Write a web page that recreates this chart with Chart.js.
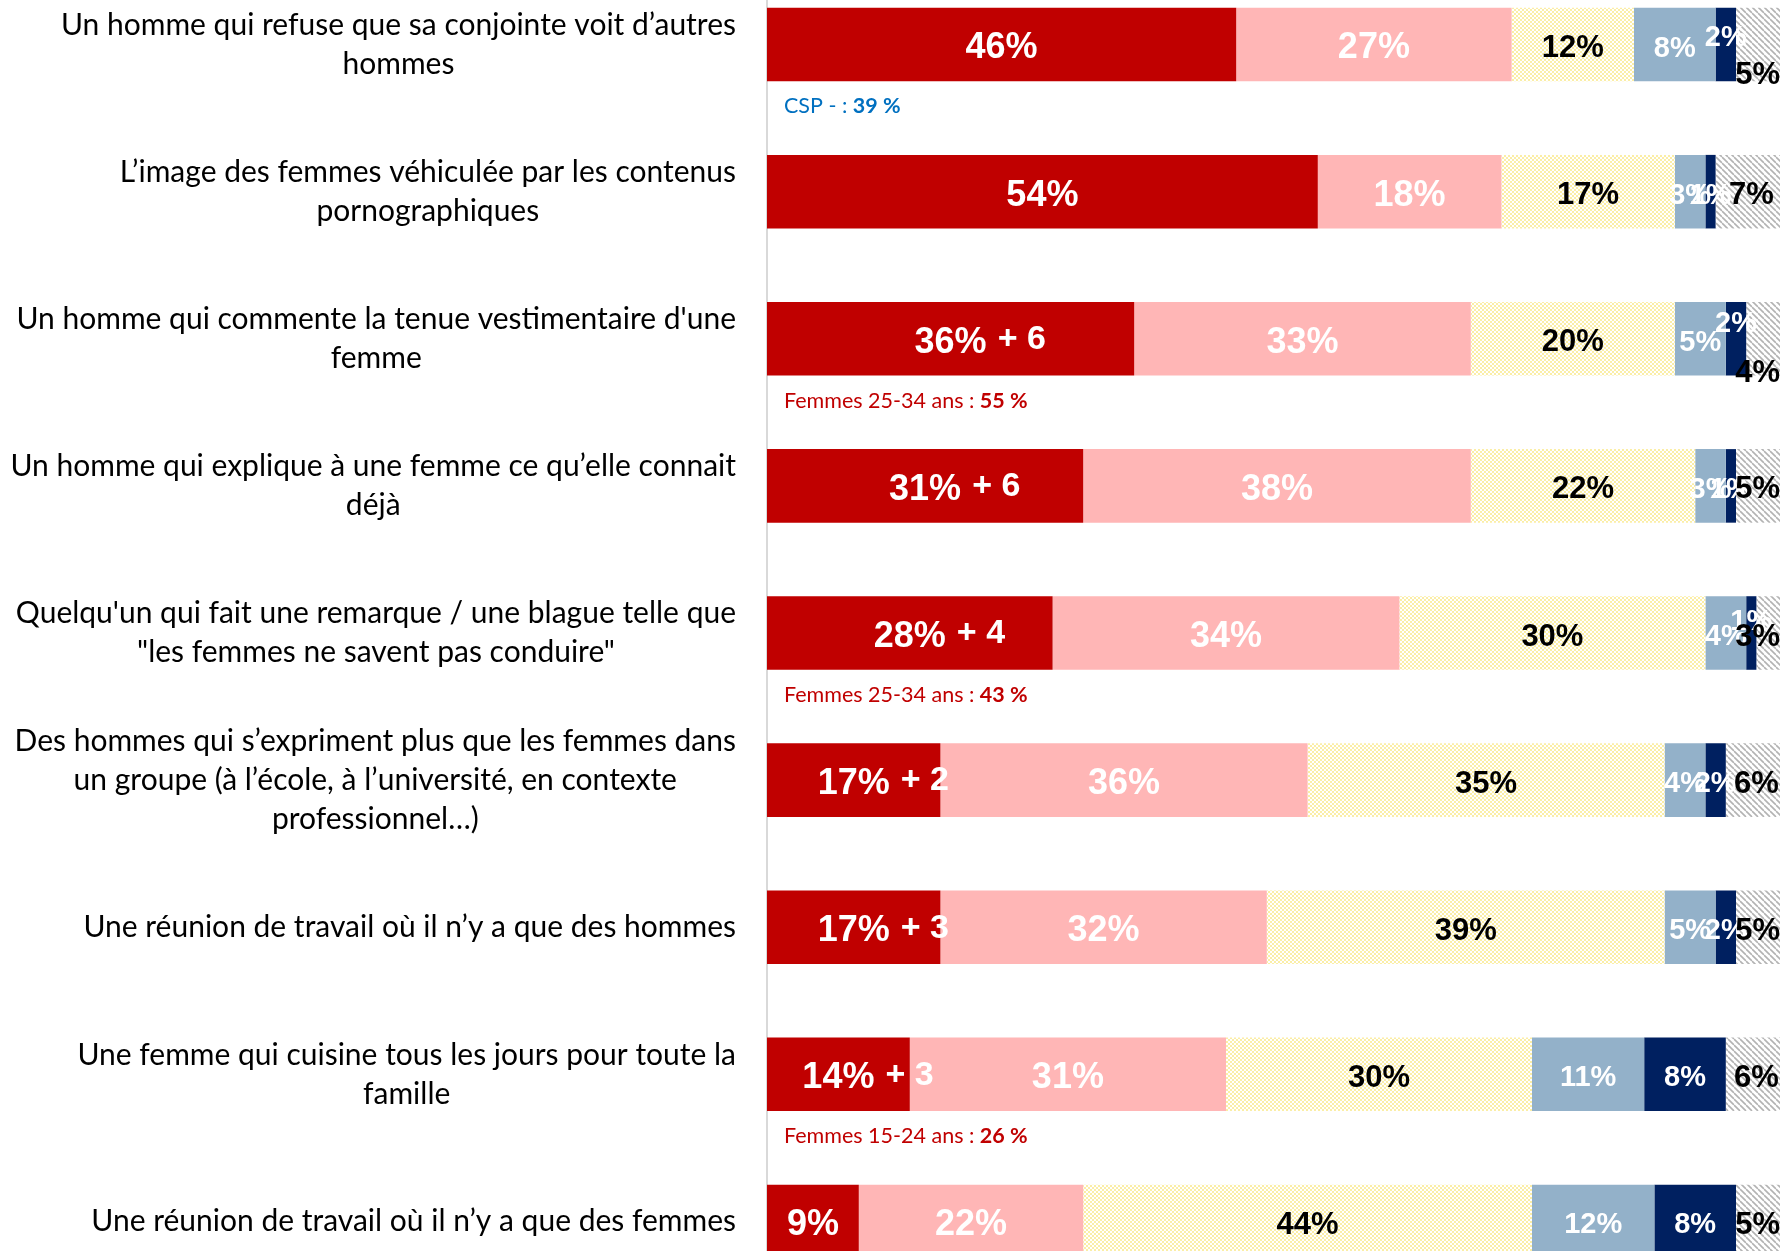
<!DOCTYPE html>
<html lang="fr">
<head>
<meta charset="utf-8">
<title>Situations perçues comme sexistes</title>
<script src="https://cdn.jsdelivr.net/npm/chart.js@4.4.1/dist/chart.umd.min.js"></script>
<style>
    html, body { margin: 0; padding: 0; background: #ffffff; overflow: hidden; }
    body { width: 1780px; height: 1251px; position: relative; }
    #wrap { position: absolute; left: 0; top: -29px; width: 1800px; height: 1324px; }
</style>
</head>
<body>
<div id="wrap"><canvas id="situationsChart"></canvas></div>
<script>
const categories = [
    ['Un homme qui refuse que sa conjointe voit d’autres', 'hommes'],
    ['L’image des femmes véhiculée par les contenus', 'pornographiques'],
    ['Un homme qui commente la tenue vestimentaire d\'une', 'femme'],
    ['Un homme qui explique à une femme ce qu’elle connait', 'déjà'],
    ['Quelqu\'un qui fait une remarque / une blague telle que', '"les femmes ne savent pas conduire"'],
    ['Des hommes qui s’expriment plus que les femmes dans', 'un groupe (à l’école, à l’université, en contexte', 'professionnel…)'],
    ['Une réunion de travail où il n’y a que des hommes'],
    ['Une femme qui cuisine tous les jours pour toute la', 'famille'],
    ['Une réunion de travail où il n’y a que des femmes']
];

const toutAFait = [46, 54, 36, 31, 28, 17, 17, 14, 9];
const plutot = [27, 18, 33, 38, 34, 36, 32, 31, 22];
const unPeu = [12, 17, 20, 22, 30, 35, 39, 30, 44];
const plutotPas = [8, 3, 5, 3, 4, 4, 5, 11, 12];
const pasDuTout = [2, 1, 2, 1, 1, 2, 2, 8, 8];
const nsp = [5, 7, 4, 5, 3, 6, 5, 6, 5];

// evolution shown next to the first segment
const evolutions = [null, null, 6, 6, 4, 2, 3, 3, null];

// sub-group notes under some bars
const noteLabels = ['CSP - : ', null, 'Femmes 25-34 ans : ', null, 'Femmes 25-34 ans : ', null, null, 'Femmes 15-24 ans : ', null];
const noteValues = ['39 %', null, '55 %', null, '43 %', null, null, '26 %', null];

const VISIBLE_RIGHT = 1780;
const LABEL_FONT = '"Liberation Sans", Arial, sans-serif';
const TEXT_FONT = 'Lato, "Open Sans", sans-serif';

// small vertical shifts for crowded labels (dataset:index -> px)
const labelNudges = { '4:0': -11, '5:0': 27, '4:2': -19, '5:2': 31, '4:4': -15 };

function makeDotPattern() {
    const c = document.createElement('canvas');
    c.width = 4; c.height = 4;
    const g = c.getContext('2d');
    g.fillStyle = '#ffffff';
    g.fillRect(0, 0, 4, 4);
    g.fillStyle = '#fbeea6';
    g.fillRect(0, 0, 2, 2);
    g.fillRect(2, 2, 2, 2);
    return g.createPattern(c, 'repeat');
}

function makeHatchPattern() {
    const s = 6;
    const c = document.createElement('canvas');
    c.width = s; c.height = s;
    const g = c.getContext('2d');
    g.fillStyle = '#ffffff';
    g.fillRect(0, 0, s, s);
    g.strokeStyle = '#b3b3b3';
    g.lineWidth = 1.6;
    [-s, 0, s].forEach(k => {
        g.beginPath();
        g.moveTo(0, k);
        g.lineTo(s, s + k);
        g.stroke();
    });
    return g.createPattern(c, 'repeat');
}

const barLabels = {
    id: 'barLabels',
    afterDatasetsDraw(chart) {
        const ctx = chart.ctx;
        ctx.save();
        chart.data.datasets.forEach((ds, di) => {
            const meta = chart.getDatasetMeta(di);
            meta.data.forEach((bar, i) => {
                const text = ds.data[i] + '%';
                ctx.font = 'bold ' + ds.labelSize + 'px ' + LABEL_FONT;
                const w = ctx.measureText(text).width;
                let cx = (bar.x + bar.base) / 2;
                cx = Math.min(cx, VISIBLE_RIGHT - w / 2);
                const cy = bar.y + 4 + (labelNudges[di + ':' + i] || 0);
                ctx.fillStyle = ds.labelColor;
                ctx.textAlign = 'center';
                ctx.textBaseline = 'middle';
                ctx.fillText(text, cx, cy);

                if (di === 0 && evolutions[i] !== null) {
                    ctx.font = 'bold 34px ' + LABEL_FONT;
                    ctx.textAlign = 'left';
                    ctx.fillStyle = '#ffffff';
                    ctx.fillText('+ ' + evolutions[i], cx + w / 2 + 11, cy - 3);
                }
            });
        });
        ctx.restore();
    },
    afterDraw(chart) {
        const ctx = chart.ctx;
        const yScale = chart.scales.y;
        ctx.save();
        ctx.textBaseline = 'middle';
        chart.data.labels.forEach((lines, i) => {
            const y = yScale.getPixelForTick(i);
            ctx.font = '30px ' + TEXT_FONT;
            ctx.fillStyle = '#000000';
            const maxW = Math.max(...lines.map(l => ctx.measureText(l).width));
            const cx = 736 - maxW / 2;
            ctx.textAlign = 'center';
            lines.forEach((line, k) => {
                ctx.fillText(line, cx, y + (k - (lines.length - 1) / 2) * 39);
            });

            if (noteLabels[i]) {
                const color = i === 0 ? '#0070c0' : '#c00000';
                const ny = y + 62;
                ctx.textAlign = 'left';
                ctx.fillStyle = color;
                ctx.font = '21.5px ' + TEXT_FONT;
                ctx.fillText(noteLabels[i], 784, ny);
                const lw = ctx.measureText(noteLabels[i]).width;
                ctx.font = 'bold 21.5px ' + TEXT_FONT;
                ctx.fillText(noteValues[i], 784 + lw, ny);
            }
        });
        ctx.restore();
    }
};

const ctx = document.getElementById('situationsChart');

new Chart(ctx, {
    type: 'bar',
    data: {
        labels: categories,
        datasets: [
            { label: 'Tout à fait', data: toutAFait, backgroundColor: '#c00000', labelColor: '#ffffff', labelSize: 36 },
            { label: 'Plutôt', data: plutot, backgroundColor: '#ffb6b6', labelColor: '#ffffff', labelSize: 36 },
            { label: 'Un peu', data: unPeu, backgroundColor: makeDotPattern(), labelColor: '#000000', labelSize: 31 },
            { label: 'Plutôt pas', data: plutotPas, backgroundColor: '#93b1c9', labelColor: '#ffffff', labelSize: 29 },
            { label: 'Pas du tout', data: pasDuTout, backgroundColor: '#002060', labelColor: '#ffffff', labelSize: 29 },
            { label: 'NSP', data: nsp, backgroundColor: makeHatchPattern(), labelColor: '#000000', labelSize: 31 }
        ]
    },
    options: {
        indexAxis: 'y',
        responsive: true,
        maintainAspectRatio: false,
        animation: false,
        layout: {
            padding: { left: 0, right: 13, top: 0, bottom: 0 }
        },
        datasets: {
            bar: {
                categoryPercentage: 1,
                barPercentage: 0.5,
                borderWidth: 0
            }
        },
        scales: {
            x: {
                stacked: true,
                min: 0,
                max: 100,
                display: false
            },
            y: {
                stacked: true,
                grid: { display: false },
                ticks: { display: false },
                border: { display: true, color: '#d9d9d9', width: 2 },
                afterFit: (scale) => { scale.width = 767; }
            }
        },
        plugins: {
            legend: { display: false },
            tooltip: { enabled: false }
        }
    },
    plugins: [barLabels]
});
</script>
</body>
</html>
